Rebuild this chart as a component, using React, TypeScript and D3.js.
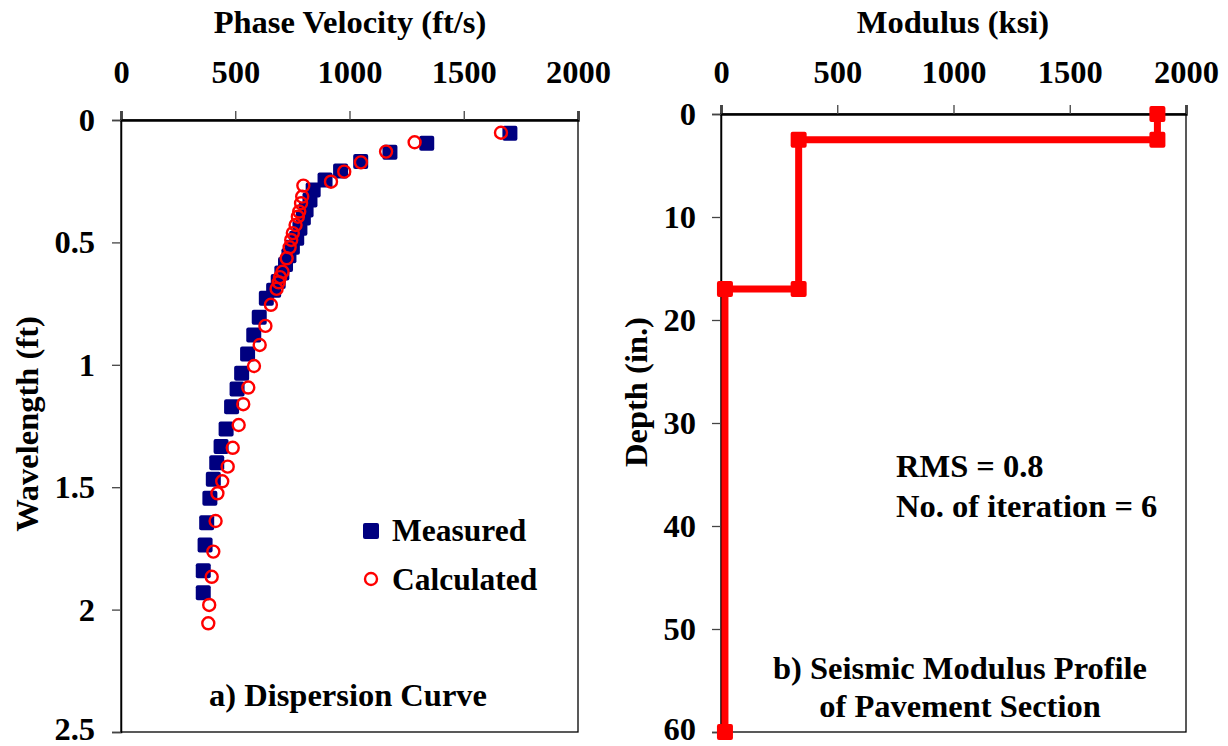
import React, { useEffect, useRef } from "react";
import * as d3 from "d3";

// Dispersion curve: [phase velocity (ft/s), wavelength (ft)]
const measured: [number, number][] = [
  [1702, 0.054], [1338, 0.095], [1177, 0.132], [1049, 0.17], [961, 0.208],
  [893, 0.245], [841, 0.286], [827, 0.327], [810, 0.368], [798, 0.4],
  [783, 0.442], [769, 0.483], [750, 0.52], [735, 0.555], [720, 0.59],
  [704, 0.625], [688, 0.66], [668, 0.695], [636, 0.728], [605, 0.806],
  [581, 0.878], [554, 0.956], [528, 1.035], [508, 1.099], [484, 1.171],
  [460, 1.262], [438, 1.334], [419, 1.4], [404, 1.468], [389, 1.545],
  [375, 1.645], [368, 1.736], [360, 1.841], [360, 1.931],
];

const calculated: [number, number][] = [
  [1663, 0.052], [1285, 0.091], [1160, 0.129], [1050, 0.173], [977, 0.211],
  [919, 0.252], [798, 0.268], [793, 0.313], [788, 0.34], [780, 0.374],
  [774, 0.395], [764, 0.429], [752, 0.462], [745, 0.49], [738, 0.52],
  [725, 0.565], [707, 0.62], [696, 0.642], [690, 0.663], [681, 0.69],
  [656, 0.755], [632, 0.841], [607, 0.919], [582, 1.005], [557, 1.093],
  [535, 1.161], [515, 1.246], [489, 1.339], [467, 1.416], [443, 1.476],
  [422, 1.525], [414, 1.638], [404, 1.763], [397, 1.866], [386, 1.981],
  [382, 2.056],
];

// Modulus profile: [modulus (ksi), depth (in.)]
const profile: [number, number][] = [
  [1877, 0], [1877, 2.5], [334, 2.5], [334, 17], [17, 17], [17, 60],
];

const velocityTicks = [0, 500, 1000, 1500, 2000];
const wavelengthTicks = [0, 0.5, 1, 1.5, 2, 2.5];
const modulusTicks = [0, 500, 1000, 1500, 2000];
const depthTicks = [0, 10, 20, 30, 40, 50, 60];

const FONT = "'Liberation Serif', 'Times New Roman', serif";
const FS = 32.5;

export default function App() {
  const svgRef = useRef<SVGSVGElement>(null);

  useEffect(() => {
    const svg = d3.select(svgRef.current);
    svg.selectAll("*").remove();
    svg.attr("font-family", FONT).attr("font-weight", "bold");

    // box + top/left axes for one panel
    function frame(x: d3.ScaleLinear<number, number>, y: d3.ScaleLinear<number, number>, xt: number[], yt: number[], xPad: number, yPad: number) {
      const [x0, x1] = x.range();
      const [y0, y1] = y.range();
      const g = svg.append("g");
      g.append("rect")
        .attr("x", x0).attr("y", y0)
        .attr("width", x1 - x0).attr("height", y1 - y0)
        .attr("fill", "none").attr("stroke", "#000").attr("stroke-width", 1.3);

      const ax = g.append("g")
        .attr("transform", `translate(0,${y0})`)
        .call(d3.axisTop(x).tickValues(xt).tickSize(9).tickPadding(xPad).tickFormat(d3.format("d")));
      const ay = g.append("g")
        .attr("transform", `translate(${x0},0)`)
        .call(d3.axisLeft(y).tickValues(yt).tickSize(9).tickPadding(yPad).tickFormat((d) => String(d)));
      [ax, ay].forEach((a) => {
        a.selectAll(".tick line").attr("stroke", "#444").attr("stroke-width", 1.3);
        a.selectAll(".tick text")
          .attr("font-family", FONT).attr("font-size", FS).attr("font-weight", "bold").attr("fill", "#000");
        a.attr("font-family", null).attr("font-size", null);
      });
      // bottom label sits on the page edge, lift it a little
      ay.selectAll(".tick text").filter((d, i, n) => i === n.length - 1).attr("dy", "0.22em");
      ax.select(".domain").attr("stroke-width", 2.4);
      ay.select(".domain").attr("stroke-width", 1.5);
      return g;
    }

    // ---- a) Dispersion curve
    const xV = d3.scaleLinear().domain([0, 2000]).range([121, 578]);
    const yW = d3.scaleLinear().domain([0, 2.5]).range([120, 732]);
    frame(xV, yW, velocityTicks, wavelengthTicks, 28, 17);

    svg.append("g").selectAll("rect").data(measured).join("rect")
      .attr("x", (d) => xV(d[0]) - 7.5).attr("y", (d) => yW(d[1]) - 7.5)
      .attr("width", 15).attr("height", 15).attr("rx", 2)
      .attr("fill", "#000080");

    svg.append("g").selectAll("circle").data(calculated).join("circle")
      .attr("cx", (d) => xV(d[0])).attr("cy", (d) => yW(d[1])).attr("r", 6)
      .attr("fill", "none").attr("stroke", "#ff0000").attr("stroke-width", 2.4);

    svg.append("text").attr("x", 350).attr("y", 33).attr("text-anchor", "middle")
      .attr("font-size", FS).text("Phase Velocity (ft/s)");
    svg.append("text").attr("transform", "translate(38,424) rotate(-90)")
      .attr("text-anchor", "middle").attr("font-size", FS).text("Wavelength (ft)");
    svg.append("text").attr("x", 348).attr("y", 706).attr("text-anchor", "middle")
      .attr("font-size", FS).text("a) Dispersion Curve");

    // legend
    svg.append("rect").attr("x", 363).attr("y", 523).attr("width", 16).attr("height", 16)
      .attr("rx", 2).attr("fill", "#000080");
    svg.append("text").attr("x", 392).attr("y", 541).attr("font-size", 31.5).text("Measured");
    svg.append("circle").attr("cx", 371).attr("cy", 579).attr("r", 6)
      .attr("fill", "none").attr("stroke", "#ff0000").attr("stroke-width", 2.4);
    svg.append("text").attr("x", 392).attr("y", 590).attr("font-size", 31.5).text("Calculated");

    // ---- b) Seismic modulus profile
    const xM = d3.scaleLinear().domain([0, 2000]).range([721, 1186]);
    const yD = d3.scaleLinear().domain([0, 60]).range([114, 732]);
    frame(xM, yD, modulusTicks, depthTicks, 22, 16);

    const line = d3.line<[number, number]>().x((d) => xM(d[0])).y((d) => yD(d[1]));
    svg.append("path").datum(profile).attr("d", line)
      .attr("fill", "none").attr("stroke", "#ff0000").attr("stroke-width", 7);
    svg.append("g").selectAll("rect").data(profile).join("rect")
      .attr("x", (d) => xM(d[0]) - 8).attr("y", (d) => yD(d[1]) - 8)
      .attr("width", 16).attr("height", 16).attr("rx", 2)
      .attr("fill", "#ff0000");

    svg.append("text").attr("x", 953).attr("y", 33).attr("text-anchor", "middle")
      .attr("font-size", FS).text("Modulus (ksi)");
    svg.append("text").attr("transform", "translate(647,392) rotate(-90)")
      .attr("text-anchor", "middle").attr("font-size", FS).text("Depth (in.)");
    svg.append("text").attr("x", 896).attr("y", 477).attr("font-size", FS).text("RMS = 0.8");
    svg.append("text").attr("x", 896).attr("y", 517).attr("font-size", FS).text("No. of iteration = 6");
    svg.append("text").attr("x", 960).attr("y", 679).attr("text-anchor", "middle")
      .attr("font-size", FS).text("b) Seismic Modulus Profile");
    svg.append("text").attr("x", 960).attr("y", 717).attr("text-anchor", "middle")
      .attr("font-size", FS).text("of Pavement Section");
  }, []);

  return (
    <svg
      ref={svgRef}
      width={1228}
      height={746}
      style={{ position: "absolute", left: 0, top: 0, background: "#fff" }}
    />
  );
}
